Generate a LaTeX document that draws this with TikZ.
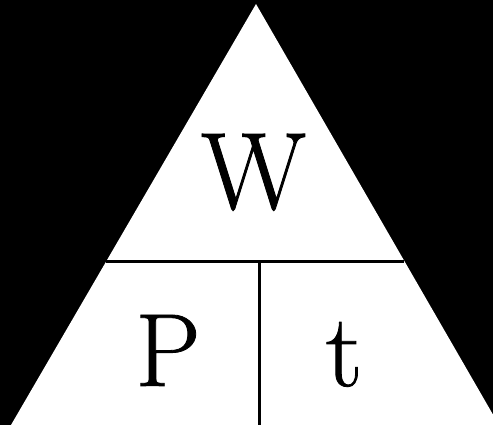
\documentclass[tikz,border=0pt]{standalone}
\usepackage{fontspec}
\newfontfamily\letterfont[FakeBold=0.8]{Latin Modern Roman}
\usetikzlibrary{calc}
\tikzset{
    BIG_LETTER/.style={inner sep=0mm, anchor=base, text=black},
    W_LETTER/.style={BIG_LETTER, font={\letterfont\fontsize{110}{110}\selectfont}},
    PT_LETTER/.style={BIG_LETTER, font={\letterfont\fontsize{104}{104}\selectfont}},
    DIVIDER/.style={draw=black, line width=3pt}
}

\begin{document}
\begin{tikzpicture}[x=1pt, y=-1pt]
    \fill[black] (0,0) rectangle (493,425);
    \useasboundingbox (0,0) rectangle (493,425);
    \coordinate (apex) at (256,4);
    \coordinate (left) at (11,425);
    \coordinate (right) at (499,425);
    \fill[white] (apex) -- (left) -- (right) -- cycle;
    \coordinate (mid_left) at ($(apex)!0.6105!(left)$);
    \coordinate (mid_right) at ($(apex)!0.6105!(right)$);
    \coordinate (split_top) at (259,261);
    \coordinate (split_bottom) at (259,425);
    \draw[DIVIDER] (mid_left) -- (mid_right);
    \draw[DIVIDER] (split_top) -- (split_bottom);
    \node [W_LETTER] (work) at (253.5,209) {W};
    \node [PT_LETTER] (power) at (168,386) {P};
    \node [PT_LETTER] (time) at (344,386) {t};
\end{tikzpicture}
\end{document}
